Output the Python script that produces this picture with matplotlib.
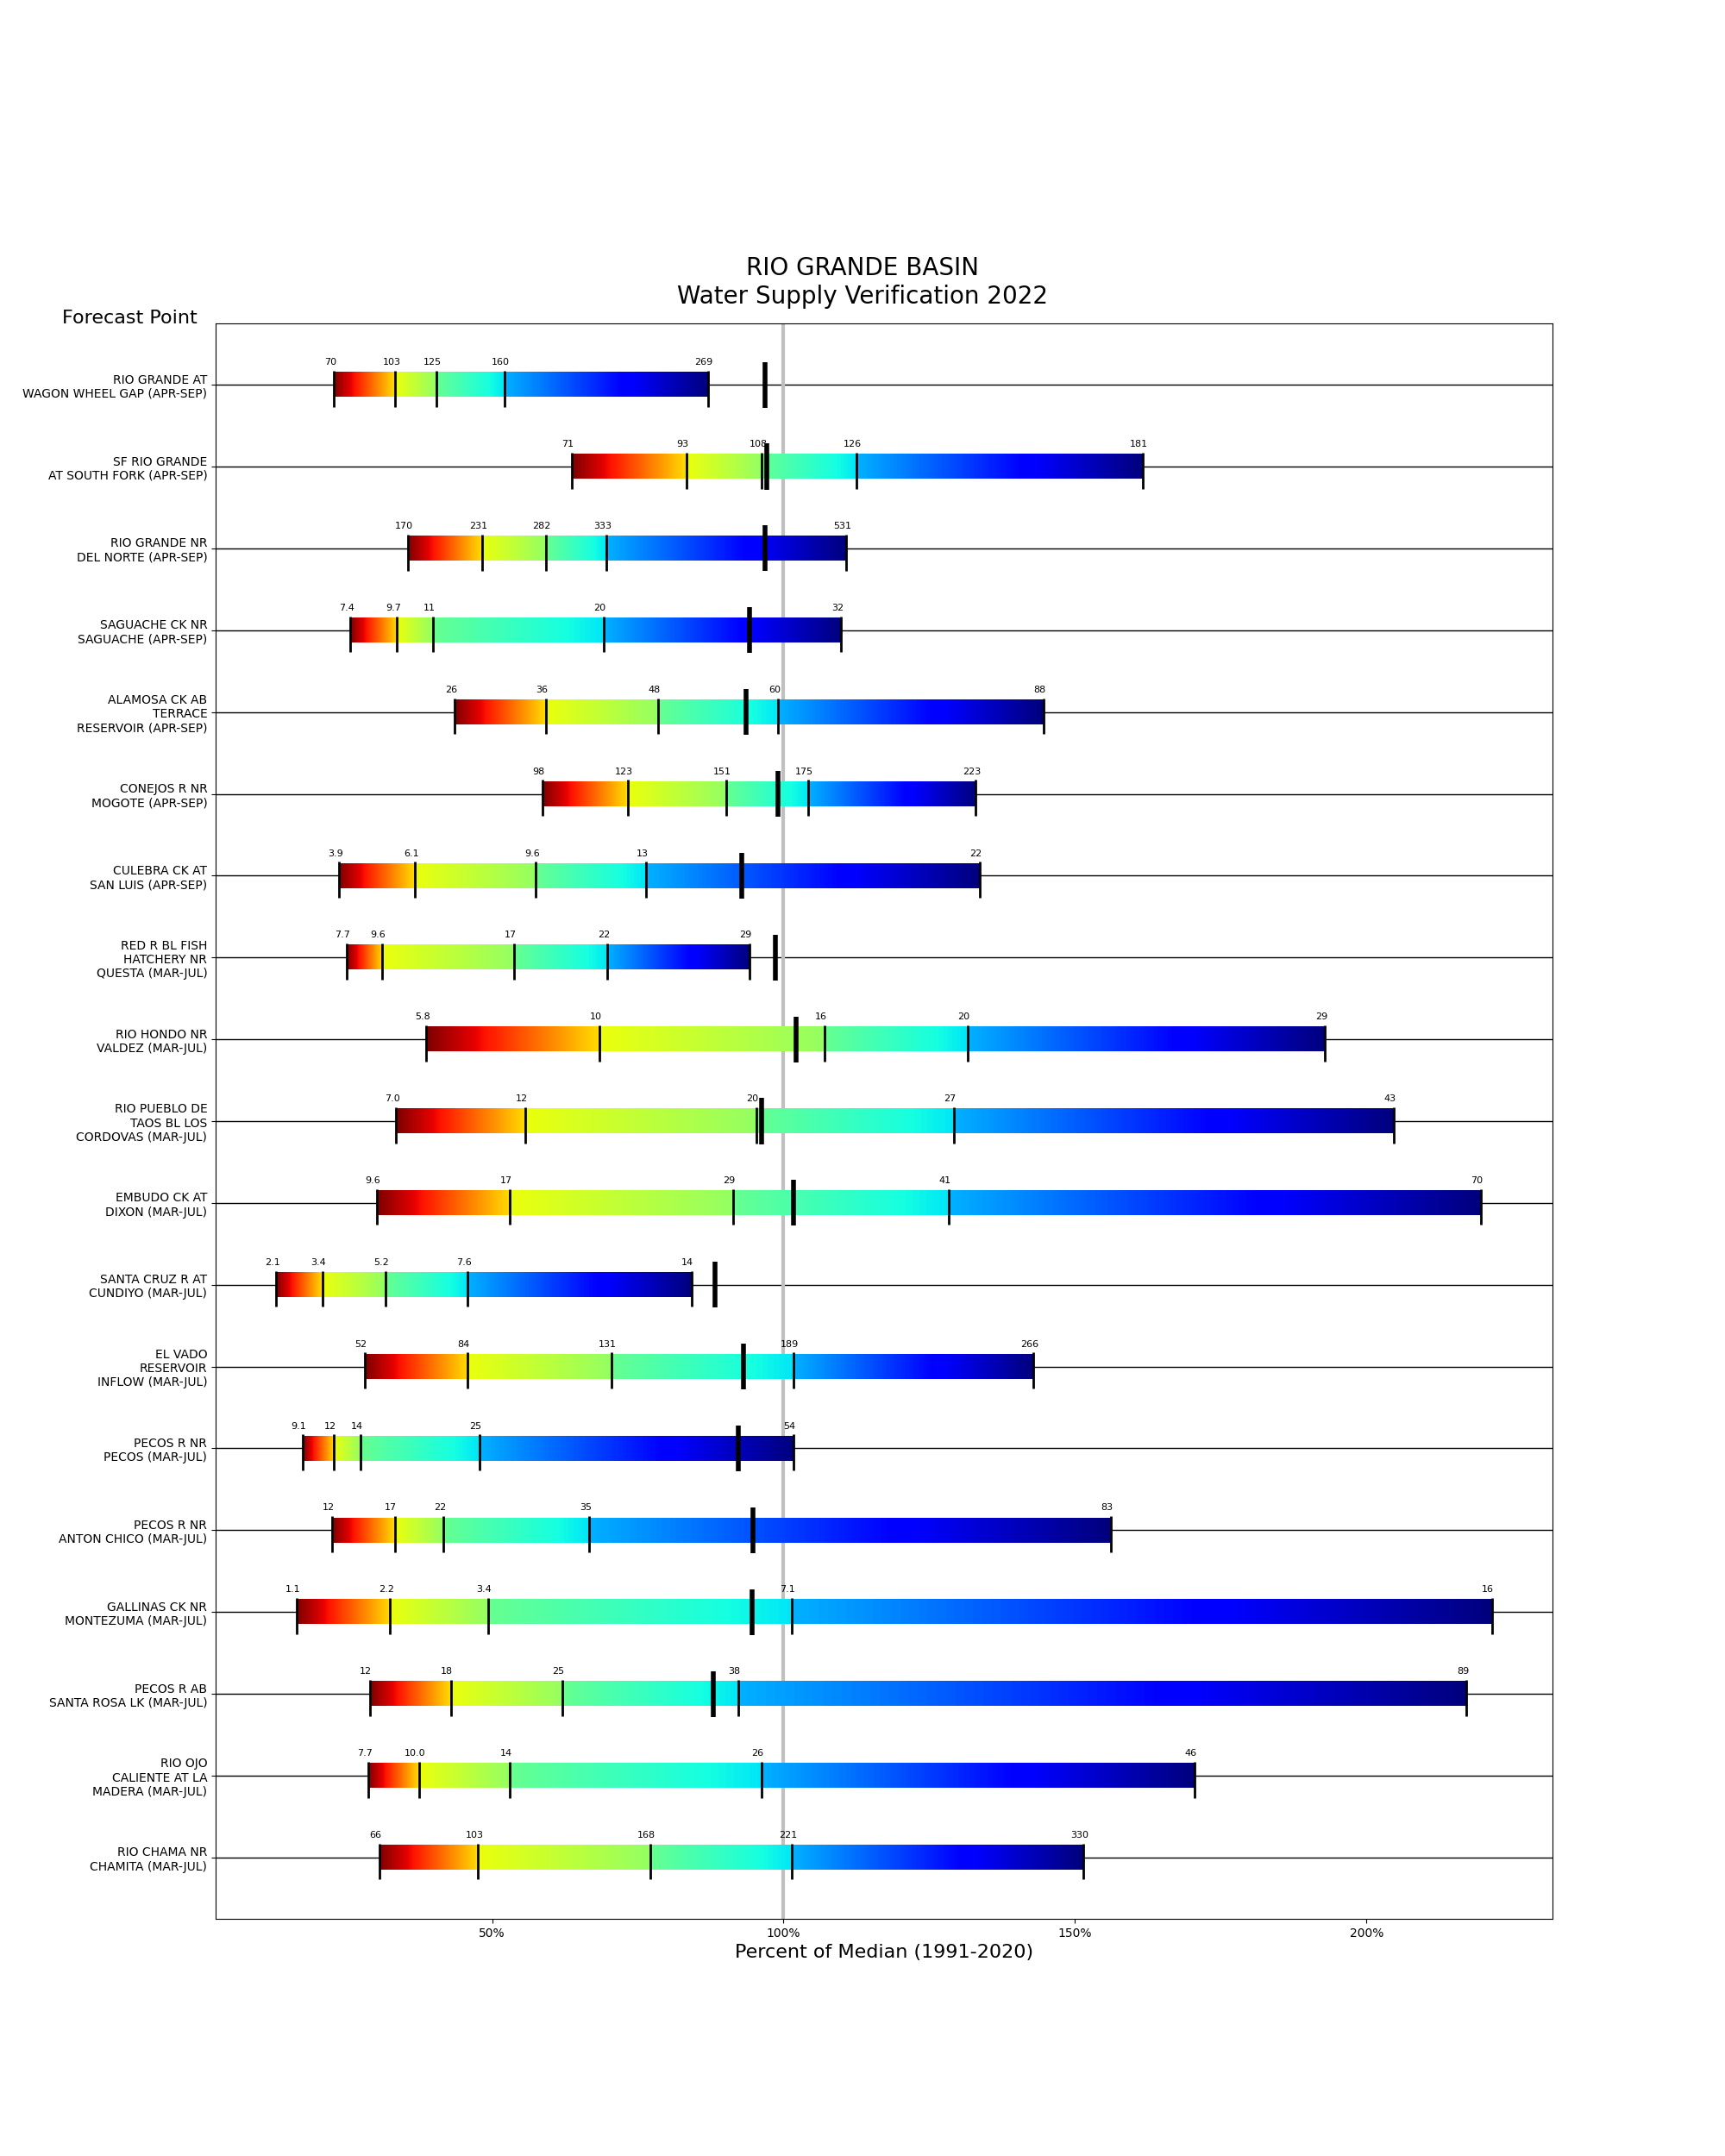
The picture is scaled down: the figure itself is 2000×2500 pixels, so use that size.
import matplotlib
matplotlib.use('Agg')
import matplotlib.pyplot as plt
import numpy as np

# Forecast points (top to bottom)
stations = [
    'RIO GRANDE AT\nWAGON WHEEL GAP (APR-SEP)',
    'SF RIO GRANDE\nAT SOUTH FORK (APR-SEP)',
    'RIO GRANDE NR\nDEL NORTE (APR-SEP)',
    'SAGUACHE CK NR\nSAGUACHE (APR-SEP)',
    'ALAMOSA CK AB\nTERRACE\nRESERVOIR (APR-SEP)',
    'CONEJOS R NR\nMOGOTE (APR-SEP)',
    'CULEBRA CK AT\nSAN LUIS (APR-SEP)',
    'RED R BL FISH\nHATCHERY NR\nQUESTA (MAR-JUL)',
    'RIO HONDO NR\nVALDEZ (MAR-JUL)',
    'RIO PUEBLO DE\nTAOS BL LOS\nCORDOVAS (MAR-JUL)',
    'EMBUDO CK AT\nDIXON (MAR-JUL)',
    'SANTA CRUZ R AT\nCUNDIYO (MAR-JUL)',
    'EL VADO\nRESERVOIR\nINFLOW (MAR-JUL)',
    'PECOS R NR\nPECOS (MAR-JUL)',
    'PECOS R NR\nANTON CHICO (MAR-JUL)',
    'GALLINAS CK NR\nMONTEZUMA (MAR-JUL)',
    'PECOS R AB\nSANTA ROSA LK (MAR-JUL)',
    'RIO OJO\nCALIENTE AT LA\nMADERA (MAR-JUL)',
    'RIO CHAMA NR\nCHAMITA (MAR-JUL)',
]

# forecast percentiles as percent of median (90%, 70%, 50%, 30%, 10% exceedance)
pct = [
    [22.9, 33.4, 40.5, 52.1, 87.0],
    [63.7, 83.3, 96.3, 112.5, 161.6],
    [35.6, 48.3, 59.2, 69.6, 110.8],
    [25.7, 33.7, 39.9, 69.1, 109.9],
    [43.6, 59.2, 78.5, 99.1, 144.6],
    [58.7, 73.3, 90.1, 104.2, 133.0],
    [23.8, 36.8, 57.5, 76.4, 133.7],
    [25.0, 31.1, 53.8, 69.8, 94.1],
    [38.7, 68.4, 107.1, 131.6, 192.9],
    [33.5, 55.7, 95.3, 129.2, 204.7],
    [30.2, 53.1, 91.3, 128.3, 219.6],
    [13.0, 20.9, 31.7, 45.8, 84.2],
    [28.1, 45.8, 70.5, 101.7, 142.9],
    [17.5, 22.9, 27.5, 47.8, 101.7],
    [22.6, 33.3, 41.7, 66.7, 156.1],
    [16.5, 32.5, 49.3, 101.4, 221.5],
    [29.0, 42.9, 62.0, 92.2, 217.2],
    [28.8, 37.5, 53.1, 96.2, 170.5],
    [30.7, 47.6, 77.1, 101.4, 151.4],
]

# forecast volumes written above each tick
values = [
    ['70', '103', '125', '160', '269'],
    ['71', '93', '108', '126', '181'],
    ['170', '231', '282', '333', '531'],
    ['7.4', '9.7', '11', '20', '32'],
    ['26', '36', '48', '60', '88'],
    ['98', '123', '151', '175', '223'],
    ['3.9', '6.1', '9.6', '13', '22'],
    ['7.7', '9.6', '17', '22', '29'],
    ['5.8', '10', '16', '20', '29'],
    ['7.0', '12', '20', '27', '43'],
    ['9.6', '17', '29', '41', '70'],
    ['2.1', '3.4', '5.2', '7.6', '14'],
    ['52', '84', '131', '189', '266'],
    ['9.1', '12', '14', '25', '54'],
    ['12', '17', '22', '35', '83'],
    ['1.1', '2.2', '3.4', '7.1', '16'],
    ['12', '18', '25', '38', '89'],
    ['7.7', '10.0', '14', '26', '46'],
    ['66', '103', '168', '221', '330'],
]

# observed percent of median (None = not available)
observed = [96.9, 97.2, 96.9, 94.1, 93.6, 99.1, 92.9, 98.6, 102.1, 96.2,
            101.7, 88.2, 93.2, 92.2, 94.8, 94.6, 88.0, None, None]

# colormap range used for each of the four segments
seg_ranges = [(0.0, 0.325), (0.365, 0.47), (0.525, 0.65), (0.70, 1.0)]

n = len(stations)
fig, ax = plt.subplots(figsize=(20, 25), dpi=100)
fig.subplots_adjust(top=0.85)

for i in range(n):
    ax.axhline(i, color='k', lw=1, zorder=1)
ax.axvline(100, color='#c0c0c0', lw=3, zorder=1.5)

for i, (p, lab, obs) in enumerate(zip(pct, values, observed)):
    for k in range(4):
        grad = np.linspace(seg_ranges[k][0], seg_ranges[k][1], 256).reshape(1, -1)
        ax.imshow(grad, cmap='jet_r', vmin=0, vmax=1, aspect='auto',
                  extent=[p[k], p[k + 1], i + 0.15, i - 0.15],
                  interpolation='bilinear', zorder=2)
    ax.vlines(p, i - 0.17, i + 0.27, color='k', lw=2, zorder=3)
    for x, t in zip(p, lab):
        ax.annotate(t, (x, i - 0.22), xytext=(-3.2, 0), textcoords='offset points',
                    ha='center', va='bottom', fontsize=8)
    if obs is not None:
        ax.vlines(obs, i - 0.28, i + 0.28, color='k', lw=4, zorder=4)

lo = min(min(p) for p in pct)
hi = max(max(p) for p in pct)
pad = 0.05 * (hi - lo)
ax.set_xlim(lo - pad, hi + pad)
ax.set_ylim(n - 1 + 0.75, -0.75)

ax.set_yticks(range(n))
ax.set_yticklabels(stations, fontsize=10)
ax.set_xticks([50, 100, 150, 200])
ax.set_xticklabels(['50%', '100%', '150%', '200%'], fontsize=10)
ax.set_xlabel('Percent of Median (1991-2020)', fontsize=16)

fig.text(0.5, 0.857, 'RIO GRANDE BASIN\nWater Supply Verification 2022',
         ha='center', va='bottom', fontsize=20)
fig.text(0.036, 0.85, 'Forecast Point', fontsize=16, va='baseline')

fig.savefig('out.png', dpi=100)
